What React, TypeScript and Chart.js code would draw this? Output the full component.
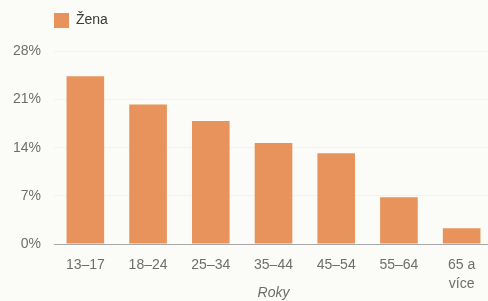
import React, { useEffect, useRef } from "react";
import { Chart, registerables } from "chart.js";

Chart.register(...registerables);

const categories: (string | string[])[] = ["13–17", "18–24", "25–34", "35–44", "45–54", "55–64", ["65 a", "více"]];
const zenaValues: number[] = [24.4, 20.3, 17.9, 14.7, 13.2, 6.8, 2.3];
const seriesLabel = "Žena";
const axisTitle = "Roky";
const yMax = 28;
const yStep = 7;

const legendShift = {
  id: "legendShift",
  afterLayout(chart: any) {
    const lg = chart.legend;
    if (!lg) return;
    const pad = lg.options.labels.padding;
    const dx = chart.chartArea.left - pad - lg.left;
    lg.left += dx;
    lg.right += dx;
    const dy = 13 - pad - lg.top;
    lg.top += dy;
    lg.bottom += dy;
  },
};

export default function App() {
  const ref = useRef<HTMLCanvasElement | null>(null);

  useEffect(() => {
    if (!ref.current) return;
    Chart.defaults.font.family = "'Liberation Sans', Arial, sans-serif";
    const chart = new Chart(ref.current, {
      type: "bar",
      data: {
        labels: categories,
        datasets: [
          {
            label: seriesLabel,
            data: zenaValues,
            backgroundColor: "#e8935c",
            borderWidth: 0,
            barPercentage: 0.6,
            categoryPercentage: 1,
          },
        ],
      },
      options: {
        animation: false,
        responsive: false,
        layout: { padding: 0 },
        plugins: {
          legend: {
            display: true,
            position: "top",
            align: "start",
            labels: {
              boxWidth: 15,
              boxHeight: 15,
              padding: 26.5,
              color: "#3a3a3a",
              font: { size: 14 },
            },
          },
          tooltip: { enabled: false },
        },
        scales: {
          x: {
            grid: { display: false },
            border: { display: true, color: "#a8a8a8", dash: [2, 2], width: 1 },
            ticks: {
              color: "#6e6e6e",
              font: { size: 14, lineHeight: 1.35 },
              padding: 4,
              maxRotation: 0,
              autoSkip: false,
            },
            title: {
              display: true,
              text: axisTitle,
              color: "#6e6e6e",
              font: { size: 14, style: "italic", lineHeight: 1.2 },
              padding: { top: 0, bottom: -1 },
            },
            afterFit(axis: any) {
              axis.height = 57;
            },
          },
          y: {
            min: 0,
            max: yMax,
            grid: { color: "rgba(0,0,0,0.035)", drawTicks: false },
            border: { display: false },
            ticks: {
              stepSize: yStep,
              color: "#6e6e6e",
              font: { size: 14 },
              padding: 13,
              callback: (v: any) => v + "%",
            },
            afterFit(axis: any) {
              axis.width = 54;
            },
          },
        },
      },
      plugins: [legendShift],
    });
    return () => chart.destroy();
  }, []);

  return (
    <div
      style={{
        position: "fixed",
        left: 0,
        top: 0,
        width: 493,
        height: 301,
        background: "#fbfcf8",
      }}
    >
      <canvas ref={ref} width={493} height={301} style={{ display: "block" }} />
    </div>
  );
}
